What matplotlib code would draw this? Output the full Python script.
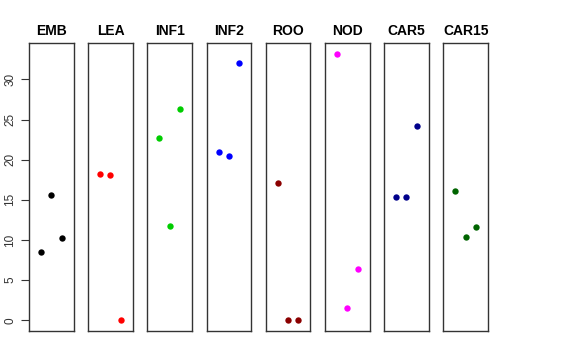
import matplotlib
matplotlib.use("Agg")
import matplotlib.pyplot as plt

plt.rcParams['font.family'] = ['Liberation Sans', 'DejaVu Sans']

tissues = ["EMB", "LEA", "INF1", "INF2", "ROO", "NOD", "CAR5", "CAR15"]
colors = ["black", "#FF0000", "#00CD00", "#0000FF", "#8B0000", "#FF00FF", "#00008B", "#006400"]
xpos = [1, 2, 3]
values = {
    "EMB": [8.5, 15.6, 10.3],
    "LEA": [18.2, 18.15, 0.0],
    "INF1": [22.7, 11.8, 26.3],
    "INF2": [21.0, 20.45, 32.0],
    "ROO": [17.05, 0.0, 0.0],
    "NOD": [33.2, 1.5, 6.35],
    "CAR5": [15.35, 15.3, 24.25],
    "CAR15": [16.1, 10.35, 11.6],
}
yticks = [0, 5, 10, 15, 20, 25, 30]

W, H = 576, 360
fig = plt.figure(figsize=(W / 100, H / 100), dpi=100)

# R-style 4% padding on the y range
ymax = max(max(v) for v in values.values())
pad = ymax * 0.04
for i, (name, col) in enumerate(zip(tissues, colors)):
    left = 29 + i * 59.2
    ax = fig.add_axes([left / W, 29 / H, 44.5 / W, 288 / H])
    ax.scatter(xpos, values[name], s=21, color=col, zorder=3, linewidths=0)
    ax.set_xlim(-0.16, 4.16)
    ax.set_ylim(-pad, ymax + pad)
    ax.set_xticks([])
    for sp in ax.spines.values():
        sp.set_linewidth(1.0)
        sp.set_color("#333333")
    ax.set_title(name, fontsize=10, fontweight="bold", pad=6)
    if i == 0:
        ax.set_yticks(yticks)
        ax.set_yticklabels([str(t) for t in yticks], rotation=90, va="center", fontsize=8.5)
        ax.tick_params(axis="y", length=6, width=0.8, pad=3, colors="#333333")
    else:
        ax.set_yticks([])

fig.savefig("out.png", dpi=100)
